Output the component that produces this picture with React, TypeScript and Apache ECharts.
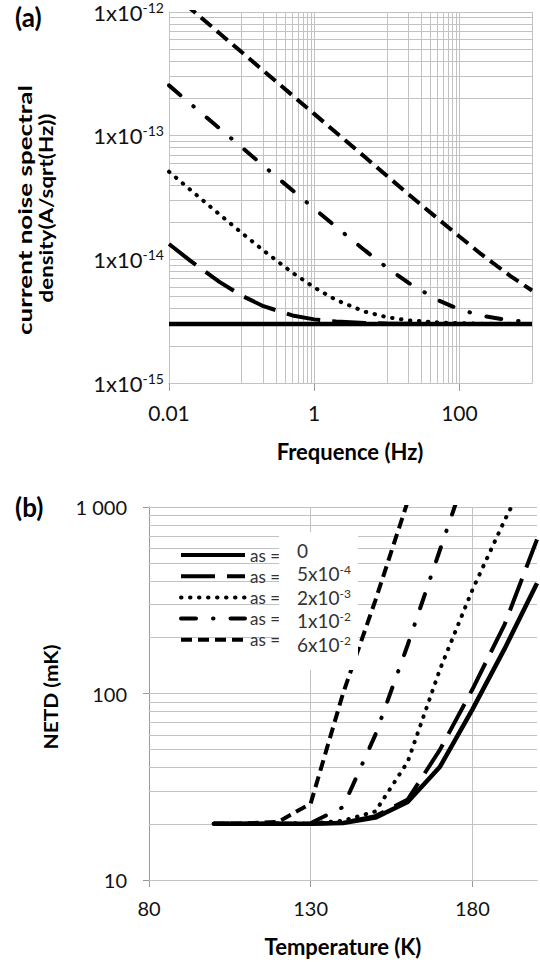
import React, { useEffect, useRef } from 'react';
import * as echarts from 'echarts';

// ---------- Panel (a): current noise spectral density vs frequency ----------
const freqHz = [0.01, 0.02, 0.05, 0.1, 0.2, 0.5, 1, 2, 5, 10, 20, 50, 100, 200, 500, 1000];
const noiseAs0 = [3.0e-15, 3.0e-15, 3.0e-15, 3.0e-15, 3.0e-15, 3.0e-15, 3.0e-15, 3.0e-15, 3.0e-15, 3.0e-15, 3.0e-15, 3.0e-15, 3.0e-15, 3.0e-15, 3.0e-15, 3.0e-15];
const noiseAs5e4 = [1.33e-14, 9.67e-15, 6.54e-15, 5.09e-15, 4.18e-15, 3.52e-15, 3.27e-15, 3.14e-15, 3.06e-15, 3.03e-15, 3.01e-15, 3.0e-15, 3.0e-15, 3.0e-15, 3.0e-15, 3.0e-15];
const noiseAs2e3 = [5.11e-14, 3.62e-14, 2.3e-14, 1.64e-14, 1.18e-14, 7.81e-15, 5.92e-15, 4.69e-15, 3.77e-15, 3.41e-15, 3.21e-15, 3.09e-15, 3.04e-15, 3.02e-15, 3.01e-15, 3.0e-15];
const noiseAs1e2 = [2.55e-13, 1.8e-13, 1.14e-13, 8.06e-14, 5.7e-14, 3.62e-14, 2.57e-14, 1.83e-14, 1.18e-14, 8.6e-15, 6.44e-15, 4.69e-15, 3.94e-15, 3.5e-15, 3.21e-15, 3.11e-15];
const noiseAs6e2 = [1.5e-12, 1.06e-12, 6.7e-13, 4.74e-13, 3.35e-13, 2.12e-13, 1.5e-13, 1.06e-13, 6.71e-14, 4.74e-14, 3.35e-14, 2.14e-14, 1.53e-14, 1.1e-14, 7.35e-15, 5.6e-15];
const freqTickValues = [0.01, 1, 100];

// ---------- Panel (b): NETD vs temperature ----------
const tempK = [100, 110, 120, 130, 140, 150, 160, 170, 180, 190, 200];
const netdAs0 = [20, 20, 20, 20, 20.2, 21.6, 26.2, 40.5, 82, 174, 390];
const netdAs5e4 = [20, 20, 20, 20, 20.3, 22, 27, 50, 105, 235, 670];
const netdAs2e3 = [20, 20, 20, 20.1, 20.8, 23.3, 43, 135, 359, 850, 1860];
const netdAs1e2 = [20, 20, 20.1, 20.2, 24.6, 60, 182, 590, 1900];
const netdAs6e2 = [20, 20.1, 20.5, 25.7, 100, 315, 1070];
const tempTickValues = [80, 130, 180];

// legend values (text box in panel b)
const asMantissa = ['0', '5x10', '2x10', '1x10', '6x10'];
const asExponent = ['', '-4', '-3', '-2', '-2'];

const FONT = 'Lato';
const GRID = '#c2c2c2';
const AXIS = '#9a9a9a';
const INK = '#000';

const styles = [
  { type: 'solid', width: 4.5, cap: 'butt' },
  { type: [34, 12], width: 4, cap: 'butt' },
  { type: [0.5, 8.5], width: 4, cap: 'round' },
  { type: [15, 17, 0.5, 17], width: 4, cap: 'round' },
  { type: [14, 7], width: 4, cap: 'butt' },
];
const stylesB = [
  { type: 'solid', width: 4.5, cap: 'butt' },
  { type: [34, 12], width: 4, cap: 'butt' },
  { type: [0.5, 8.5], width: 4, cap: 'round' },
  { type: [15, 17, 0.5, 17], width: 4, cap: 'round' },
  { type: [11, 6], width: 4, cap: 'butt' },
];

const namesB = ['as = 0', 'as = 5x10-4', 'as = 2x10-3', 'as = 1x10-2', 'as = 6x10-2'];

function measure(text: string, font: string): number {
  const c = document.createElement('canvas').getContext('2d');
  if (!c) return text.length * 8;
  c.font = font;
  return c.measureText(text).width;
}

export default function App() {
  const ref = useRef<HTMLDivElement>(null);

  useEffect(() => {
    if (!ref.current) return;
    const chart = echarts.init(ref.current, null, { renderer: 'svg' });

    const seriesA = [noiseAs0, noiseAs5e4, noiseAs2e3, noiseAs1e2, noiseAs6e2];
    const seriesB = [netdAs0, netdAs5e4, netdAs2e3, netdAs1e2, netdAs6e2];

    // gridline positions
    const decadeMinors = (decades: number[]) => {
      const out: number[] = [];
      decades.forEach((d) => {
        for (let m = 1; m <= 9; m++) out.push(m * Math.pow(10, d));
      });
      return out;
    };
    const gridAx = [0.01, 0.1, 0.2, 0.3, 0.4, 0.5, 0.6, 0.7, 0.8, 0.9, 1, 10, 20, 30, 40, 50, 60, 70, 80, 90, 100, 1000];
    const gridAy = [...decadeMinors([-15, -14, -13]), 1e-12];
    const gridBy = [...decadeMinors([1, 2]), 1000];

    const gridHelper = (idx: number, anchor: number[], xs: number[], ys: number[]) => ({
      type: 'line',
      name: 'grid' + idx,
      xAxisIndex: idx,
      yAxisIndex: idx,
      data: [anchor],
      symbol: 'none',
      silent: true,
      z: 1,
      lineStyle: { opacity: 0 },
      markLine: {
        silent: true,
        z: 1,
        precision: 20,
        symbol: ['none', 'none'],
        label: { show: false },
        emphasis: { disabled: true },
        lineStyle: { color: GRID, width: 1, type: 'solid' },
        data: [...xs.map((v) => ({ xAxis: v })), ...ys.map((v) => ({ yAxis: v }))],
      },
    });

    const lineSeries: any[] = [];
    seriesA.forEach((arr, i) => {
      lineSeries.push({
        type: 'line',
        name: 'a-' + namesB[i],
        xAxisIndex: 0,
        yAxisIndex: 0,
        data: freqHz.map((f, j) => [f, arr[j]]),
        symbol: 'none',
        showSymbol: false,
        silent: true,
        z: 6 + (i === 0 ? 1 : 0),
        clip: true,
        lineStyle: { color: INK, width: styles[i].width, type: styles[i].type, cap: styles[i].cap },
      });
    });
    seriesB.forEach((arr, i) => {
      lineSeries.push({
        type: 'line',
        name: namesB[i],
        xAxisIndex: 1,
        yAxisIndex: 1,
        data: arr.map((v, j) => [tempK[j], v]),
        symbol: 'none',
        showSymbol: false,
        silent: true,
        z: 6 + (i === 0 ? 1 : 0),
        clip: true,
        lineStyle: { color: INK, width: stylesB[i].width, type: stylesB[i].type, cap: stylesB[i].cap },
      });
    });

    const tickText = { fontFamily: FONT, color: '#111' };

    // vertical titles (stretched along their length to match reference)
    const vTitle = (text: string, cx: number, cy: number, len: number, size: number) => {
      const font = `bold ${size}px ${FONT}`;
      const w = measure(text, font);
      return {
        type: 'text',
        x: cx,
        y: cy,
        rotation: Math.PI / 2,
        scaleX: len / w,
        scaleY: 1,
        z: 20,
        style: { text, font, fill: INK, align: 'center', verticalAlign: 'middle' },
      };
    };

    const valueRowsY = [550, 573.5, 597, 620.5, 644];

    const option: any = {
      animation: false,
      grid: [
        { left: 169, top: 12, width: 363, height: 371 },
        { left: 149, top: 507, width: 389, height: 373 },
      ],
      xAxis: [
        {
          type: 'log',
          gridIndex: 0,
          logBase: 10,
          min: 0.01,
          max: 1000,
          axisLine: { show: true, onZero: false, lineStyle: { color: AXIS, width: 1 } },
          axisTick: { show: true, length: 8, customValues: freqTickValues, lineStyle: { color: AXIS } },
          splitLine: { show: false },
          minorSplitLine: { show: false },
          axisLabel: {
            ...tickText,
            fontSize: 21,
            margin: 19,
            formatter: (v: number) => {
              const e = Math.round(Math.log10(v));
              if (e % 2 !== 0) return '';
              return e < 0 ? v.toFixed(-e) : String(Math.round(v));
            },
          },
        },
        {
          type: 'value',
          gridIndex: 1,
          min: 80,
          max: 200,
          interval: 10,
          axisLine: { show: true, onZero: false, lineStyle: { color: AXIS, width: 1 } },
          axisTick: { show: true, length: 7, customValues: tempTickValues, lineStyle: { color: AXIS } },
          splitLine: { show: true, lineStyle: { color: GRID, width: 1 } },
          axisLabel: {
            ...tickText,
            fontSize: 20,
            margin: 18,
            formatter: (v: number) => (tempTickValues.indexOf(v) >= 0 ? String(v) : ''),
          },
        },
      ],
      yAxis: [
        {
          type: 'log',
          gridIndex: 0,
          logBase: 10,
          min: 1e-15,
          max: 1e-12,
          axisLine: { show: true, onZero: false, lineStyle: { color: AXIS, width: 1 } },
          axisTick: { show: false },
          splitLine: { show: false },
          axisLabel: {
            margin: 5,
            formatter: (v: number) => {
              const e = Math.round(Math.log10(v));
              return `{m|1x10}{s|${e}}`;
            },
            rich: {
              m: { ...tickText, fontSize: 22, lineHeight: 24 },
              s: { ...tickText, fontSize: 14, lineHeight: 14, verticalAlign: 'top' },
            },
          },
        },
        {
          type: 'log',
          gridIndex: 1,
          logBase: 10,
          min: 10,
          max: 1000,
          axisLine: { show: true, onZero: false, lineStyle: { color: AXIS, width: 1 } },
          axisTick: { show: true, length: 6, lineStyle: { color: AXIS } },
          splitLine: { show: false },
          axisLabel: {
            ...tickText,
            fontSize: 20,
            margin: 22,
            formatter: (v: number) => (v >= 999 ? '1 000' : String(Math.round(v))),
          },
        },
      ],
      legend: {
        data: namesB,
        orient: 'vertical',
        left: 174,
        top: 540,
        itemWidth: 64,
        itemHeight: 14,
        itemGap: 1.2,
        selectedMode: false,
        formatter: () => 'as =',
        itemStyle: { opacity: 0 },
        lineStyle: { width: 4 },
        textStyle: { fontFamily: FONT, fontSize: 17, color: '#333', lineHeight: 20, padding: [0, 0, 0, 0] },
      },
      series: [
        gridHelper(0, [1, 3e-15], gridAx, gridAy),
        gridHelper(1, [150, 20], [], gridBy),
        ...lineSeries,
      ],
      graphic: [
        { type: 'text', left: 15, top: 4, z: 20, style: { text: '(a)', font: `bold 26px ${FONT}`, fill: INK } },
        { type: 'text', left: 15, top: 494, z: 20, style: { text: '(b)', font: `bold 26px ${FONT}`, fill: INK } },
        vTitle('current noise spectral', 25, 210, 250, 18),
        vTitle('density(A/sqrt(Hz))', 46, 208, 189, 18),
        vTitle('NETD (mK)', 51, 697, 105, 18),
        {
          type: 'text', x: 350, y: 451, z: 20,
          style: { text: 'Frequence (Hz)', font: `bold 22px ${FONT}`, fill: INK, align: 'center', verticalAlign: 'middle' },
        },
        {
          type: 'text', x: 343, y: 946, z: 20,
          style: { text: 'Temperature (K)', font: `bold 22px ${FONT}`, fill: INK, align: 'center', verticalAlign: 'middle' },
        },
        { type: 'rect', z: 10, shape: { x: 279, y: 532, width: 79, height: 138 }, style: { fill: '#fff' } },
        ...asMantissa.map((m, i) => ({
          type: 'text',
          x: 297,
          y: valueRowsY[i],
          z: 11,
          style: {
            text: asExponent[i] ? `${m}{s|${asExponent[i]}}` : m,
            font: `19px ${FONT}`,
            fill: '#333',
            align: 'left',
            verticalAlign: 'middle',
            lineHeight: 20,
            rich: { s: { fontSize: 12, fontFamily: FONT, fill: '#333', lineHeight: 12, verticalAlign: 'top' } },
          },
        })),
      ],
    };

    chart.setOption(option);
    return () => chart.dispose();
  }, []);

  return (
    <div
      ref={ref}
      style={{ position: 'absolute', left: 0, top: 0, width: 540, height: 964, background: '#fff' }}
    />
  );
}
